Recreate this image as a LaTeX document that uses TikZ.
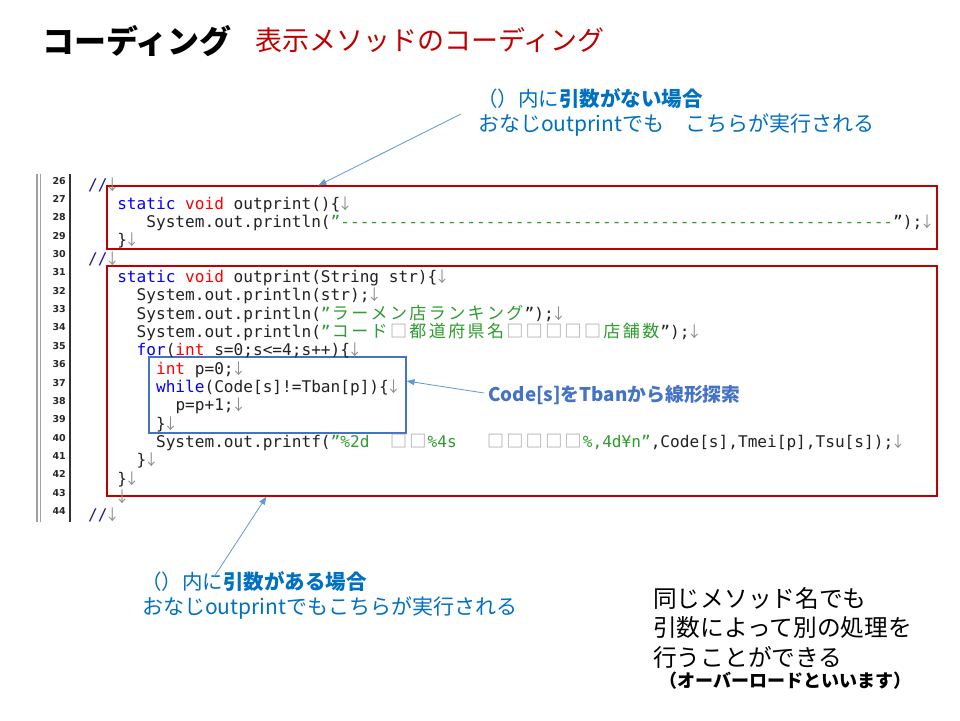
\documentclass[tikz,border=0pt]{standalone}
\usepackage{fontspec}
\setmainfont{Noto Sans CJK JP}
\newfontfamily\jp{Noto Sans CJK JP}
\newfontfamily\codefontfam{DejaVu Sans Mono}
\newfontfamily\numfontfam{DejaVu Sans}
\usetikzlibrary{arrows.meta}
\definecolor{redbox}{HTML}{C00000}
\definecolor{bluebox}{HTML}{4472C4}
\definecolor{arrowblue}{HTML}{5B9BD5}
\definecolor{annblue}{HTML}{0070C0}
\definecolor{kwblue}{HTML}{0000FF}
\definecolor{kwred}{HTML}{FF0000}
\definecolor{strgreen}{HTML}{2E9B2E}
\definecolor{codetxt}{HTML}{222222}
\definecolor{dngrey}{HTML}{8C8C8C}
\definecolor{boxgrey}{HTML}{9A9A9A}
\definecolor{cmnavy}{HTML}{1E1E96}
\definecolor{gutgrey}{HTML}{A0A0A0}
\newcommand\codefont{\fontsize{16.11pt}{18pt}\codefontfam}
\newcommand\J[1]{\Jloop#1\relax}
\def\Jloop#1{\ifx\relax#1\else\makebox[19.4pt]{\fontsize{17pt}{17pt}\jp #1}\expandafter\Jloop\fi}
\newcommand\Jg[1]{\textcolor{boxgrey}{\J{#1}}}
\newcommand\ckb[1]{\textcolor{kwblue}{#1}}
\newcommand\ckr[1]{\textcolor{kwred}{#1}}
\newcommand\cst[1]{\textcolor{strgreen}{#1}}
\newcommand\cdn{\textcolor{dngrey}{\makebox[9.7pt]{\fontsize{15pt}{15pt}\jp ↓}}}
\newcommand\ccm[1]{\textcolor{cmnavy}{#1}}
\newcommand\cl[4]{\node[code] (#1) at ({88+#2*9.7},{209+(#3-27)*18.35}) {#4};}
\newcommand\lnum[1]{\node[lnum] (n#1) at (66,{202.5+(#1-27)*18.35}) {#1};}
\tikzset{
  code/.style={anchor=base west, inner sep=0pt, font=\codefont, text=codetxt},
  lnum/.style={anchor=base east, inner sep=0pt, font=\fontsize{9.5pt}{10pt}\numfontfam\bfseries, text=black!85},
  rbox/.style={draw=redbox, line width=1.2pt, inner sep=0pt},
  bbox/.style={draw=bluebox, line width=1.1pt, inner sep=0pt},
  callout/.style={draw=arrowblue, line width=0.8pt, -{Triangle[length=8pt,width=6pt]}},
  txt/.style={anchor=west, inner sep=0pt},
}
\begin{document}
\begin{tikzpicture}[x=1pt,y=-1pt]
\useasboundingbox[fill=white] (0,0) rectangle (960,720);
% titles
\node[txt, font=\fontsize{32pt}{32pt}\jp\bfseries] (title) at (42,41) {コーディング};
\node[txt, font=\fontsize{27pt}{27pt}\jp, text=redbox] (subtitle) at (255,40) {表示メソッドのコーディング};
% annotation 1
\node[txt, font=\fontsize{20.5pt}{20.5pt}\jp, text=annblue] (ann1a) at (477,99) {（）内に\textbf{引数がない場合}};
\node[txt, font=\fontsize{21pt}{21pt}\jp, text=annblue] (ann1b) at (478,125) {おなじoutprintでも　こちらが実行される};
% gutter
\draw[gutgrey, line width=1.3pt] (37,174) -- (37,522);
\draw[gutgrey, line width=1pt] (40.5,174) -- (40.5,522);
\draw[black!80, line width=1.1pt] (70,174) -- (70,522);
% boxes
\node[rbox, minimum width=830pt, minimum height=63pt] (box1) at (522,217.5) {};
\node[rbox, minimum width=830pt, minimum height=230pt] (box2) at (522,381) {};
\node[bbox, minimum width=257pt, minimum height=76pt] (box3) at (277.5,395) {};
% line numbers
\foreach \n in {26,...,44} {\lnum{\n}}
% code
\cl{c26}{0}{26}{\ccm{//}\cdn}
\cl{c27}{3}{27}{\ckb{static} \ckr{void} outprint()\{\cdn}
\cl{c28}{6}{28}{System.out.println(\cst{”---------------------------------------------------------}”);\cdn}
\cl{c29}{3}{29}{\}\cdn}
\cl{c30}{0}{30}{\ccm{//}\cdn}
\cl{c31}{3}{31}{\ckb{static} \ckr{void} outprint(String str)\{\cdn}
\cl{c32}{5}{32}{System.out.println(str);\cdn}
\cl{c33}{5}{33}{System.out.println(\cst{”\J{ラーメン店ランキング}}”);\cdn}
\cl{c34}{5}{34}{System.out.println(\cst{”\J{コード}}\Jg{□}\cst{\J{都道府県名}}\Jg{□□□□□}\cst{\J{店舗数}}”);\cdn}
\cl{c35}{5}{35}{\ckb{for}(\ckr{int} s=0;s<=4;s++)\{\cdn}
\cl{c36}{7}{36}{\ckr{int} p=0;\cdn}
\cl{c37}{7}{37}{\ckb{while}(Code[s]!=Tban[p])\{\cdn}
\cl{c38}{9}{38}{p=p+1;\cdn}
\cl{c39}{7}{39}{\}\cdn}
\cl{c40}{7}{40}{System.out.printf(\cst{”\%2d\ \ }\Jg{□□}\cst{\%4s\ \ \ }\Jg{□□□□□}\cst{\%,4d¥n”},Code[s],Tmei[p],Tsu[s]);\cdn}
\cl{c41}{5}{41}{\}\cdn}
\cl{c42}{3}{42}{\}\cdn}
\cl{c43}{3}{43}{\cdn}
\cl{c44}{0}{44}{\ccm{//}\cdn}
% label for blue box
\node[txt, font=\fontsize{18.8pt}{18.8pt}\jp\bfseries, text=bluebox] (lbl3) at (488,395) {Code[s]をTbanから線形探索};
% annotation 2
\node[txt, font=\fontsize{20.5pt}{20.5pt}\jp, text=annblue] (ann2a) at (141,582) {（）内に\textbf{引数がある場合}};
\node[txt, font=\fontsize{21pt}{21pt}\jp, text=annblue] (ann2b) at (142,608) {おなじoutprintでもこちらが実行される};
% right note
\node[txt, font=\fontsize{23.7pt}{23.7pt}\jp] (note1) at (653,598) {同じメソッド名でも};
\node[txt, font=\fontsize{23.7pt}{23.7pt}\jp] (note2) at (653,628) {引数によって別の処理を};
\node[txt, font=\fontsize{23.7pt}{23.7pt}\jp] (note3) at (653,657) {行うことができる};
\node[txt, font=\fontsize{18pt}{18pt}\jp\bfseries] (note4) at (659,681) {（オーバーロードといいます）};
% connectors
\coordinate (s1) at (461,114);
\coordinate (s2) at (214,577);
\draw[callout] (s1) -- ([xshift=212pt]box1.north west);
\draw[callout] (s2) -- ([xshift=160pt]box2.south west);
\draw[callout] ([xshift=-4pt,yshift=2pt]lbl3.west) -- ([yshift=14pt]box3.east);
\end{tikzpicture}
\end{document}
